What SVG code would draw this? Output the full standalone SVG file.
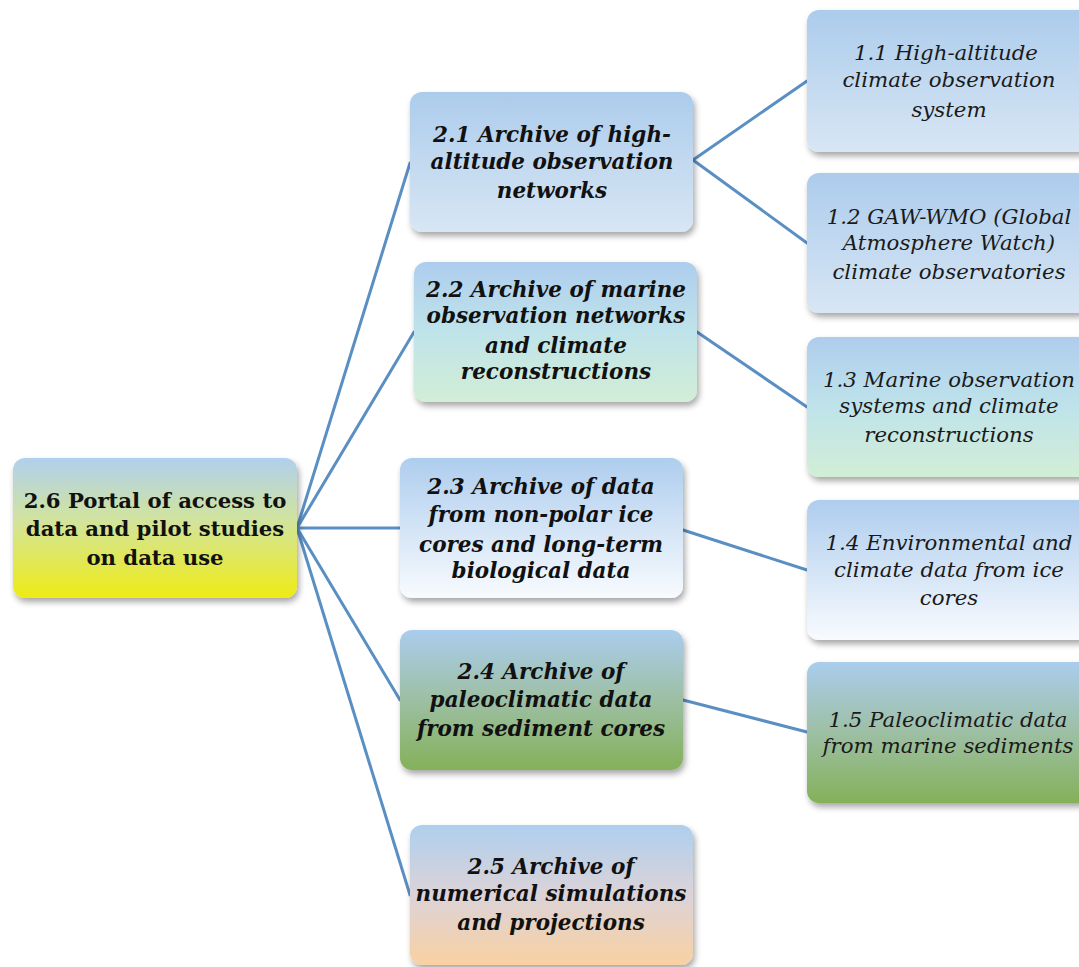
<svg xmlns="http://www.w3.org/2000/svg" width="1079" height="967" viewBox="0 0 1079 967">
<defs>
<linearGradient id="gBlue" x1="0" y1="0" x2="0" y2="1"><stop offset="0" stop-color="#acccec"/><stop offset="1" stop-color="#d8e6f4"/></linearGradient>
<linearGradient id="gTeal" x1="0" y1="0" x2="0" y2="1"><stop offset="0" stop-color="#aecdee"/><stop offset="0.5" stop-color="#bfe3ea"/><stop offset="1" stop-color="#d2eed6"/></linearGradient>
<linearGradient id="gWhite" x1="0" y1="0" x2="0" y2="1"><stop offset="0" stop-color="#aecdee"/><stop offset="1" stop-color="#f8fbfe"/></linearGradient>
<linearGradient id="gGreen" x1="0" y1="0" x2="0" y2="1"><stop offset="0" stop-color="#aacdee"/><stop offset="0.5" stop-color="#9dbfa4"/><stop offset="1" stop-color="#84b159"/></linearGradient>
<linearGradient id="gPeach" x1="0" y1="0" x2="0" y2="1"><stop offset="0" stop-color="#aecfee"/><stop offset="0.5" stop-color="#dcd3d8"/><stop offset="1" stop-color="#f9d1a2"/></linearGradient>
<linearGradient id="gYellow" x1="0" y1="0" x2="0" y2="1"><stop offset="0" stop-color="#b0d0ee"/><stop offset="0.45" stop-color="#d2e49c"/><stop offset="1" stop-color="#efeb14"/></linearGradient>
<filter id="sh" x="-10%" y="-10%" width="125%" height="130%"><feDropShadow dx="2" dy="4" stdDeviation="3" flood-color="#000" flood-opacity="0.35"/></filter>
</defs>
<style>
.box{filter:url(#sh);}
.conn{stroke:#5a8fc4;stroke-width:3;fill:none;stroke-linecap:round;}
.root{font-family:"DejaVu Serif","Liberation Serif",serif;font-weight:bold;font-size:21.2px;fill:#111;text-anchor:middle;}
.mid{font-family:"DejaVu Serif","Liberation Serif",serif;font-weight:bold;font-style:italic;font-size:21.5px;fill:#111;text-anchor:middle;}
.leaf{font-family:"DejaVu Serif","Liberation Serif",serif;font-style:italic;font-size:21.3px;fill:#1a1a1a;text-anchor:middle;}
</style>
<rect width="1079" height="967" fill="#ffffff"/>
<g id="connectors">
<line class="conn" x1="297" y1="528" x2="410" y2="163"/>
<line class="conn" x1="297" y1="528" x2="414" y2="332"/>
<line class="conn" x1="297" y1="528" x2="400" y2="528"/>
<line class="conn" x1="297" y1="528" x2="400" y2="700"/>
<line class="conn" x1="297" y1="528" x2="410" y2="895"/>
<line class="conn" x1="693" y1="160" x2="807" y2="81"/>
<line class="conn" x1="693" y1="160" x2="807" y2="243"/>
<line class="conn" x1="697" y1="332" x2="807" y2="407"/>
<line class="conn" x1="683" y1="530" x2="807" y2="570"/>
<line class="conn" x1="683" y1="700" x2="807" y2="732"/>
</g>
<g id="node-2-6">
<rect class="box" x="13" y="458" width="284" height="140" rx="12" fill="url(#gYellow)"/>
<text class="root" x="155" y="508">2.6 Portal of access to</text>
<text class="root" x="155" y="536">data and pilot studies</text>
<text class="root" x="155" y="565">on data use</text>
</g>
<g id="node-2-1">
<rect class="box" x="410" y="92" width="283" height="140" rx="12" fill="url(#gBlue)"/>
<text class="mid" x="552" y="142">2.1 Archive of high-</text>
<text class="mid" x="552" y="169">altitude observation</text>
<text class="mid" x="552" y="198">networks</text>
</g>
<g id="node-2-2">
<rect class="box" x="414" y="262" width="283" height="140" rx="12" fill="url(#gTeal)"/>
<text class="mid" x="556" y="297">2.2 Archive of marine</text>
<text class="mid" x="556" y="323">observation networks</text>
<text class="mid" x="556" y="353">and climate</text>
<text class="mid" x="556" y="379">reconstructions</text>
</g>
<g id="node-2-3">
<rect class="box" x="400" y="458" width="283" height="140" rx="12" fill="url(#gWhite)"/>
<text class="mid" x="541" y="494">2.3 Archive of data</text>
<text class="mid" x="541" y="522">from non-polar ice</text>
<text class="mid" x="541" y="552">cores and long-term</text>
<text class="mid" x="541" y="578">biological data</text>
</g>
<g id="node-2-4">
<rect class="box" x="400" y="630" width="283" height="140" rx="12" fill="url(#gGreen)"/>
<text class="mid" x="541" y="679">2.4 Archive of</text>
<text class="mid" x="541" y="707">paleoclimatic data</text>
<text class="mid" x="541" y="736">from sediment cores</text>
</g>
<g id="node-2-5">
<rect class="box" x="410" y="825" width="283" height="140" rx="12" fill="url(#gPeach)"/>
<text class="mid" x="551" y="874">2.5 Archive of</text>
<text class="mid" x="551" y="901">numerical simulations</text>
<text class="mid" x="551" y="930">and projections</text>
</g>
<g id="node-1-1">
<rect class="box" x="807" y="10" width="284" height="142" rx="12" fill="url(#gBlue)"/>
<text class="leaf" x="946" y="60">1.1  High-altitude</text>
<text class="leaf" x="949" y="87">climate observation</text>
<text class="leaf" x="949" y="117">system</text>
</g>
<g id="node-1-2">
<rect class="box" x="807" y="173" width="284" height="140" rx="12" fill="url(#gBlue)"/>
<text class="leaf" x="949" y="224">1.2 GAW-WMO (Global</text>
<text class="leaf" x="949" y="250">Atmosphere Watch)</text>
<text class="leaf" x="949" y="279">climate observatories</text>
</g>
<g id="node-1-3">
<rect class="box" x="807" y="337" width="284" height="140" rx="12" fill="url(#gTeal)"/>
<text class="leaf" x="949" y="387">1.3 Marine observation</text>
<text class="leaf" x="949" y="413">systems and climate</text>
<text class="leaf" x="949" y="442">reconstructions</text>
</g>
<g id="node-1-4">
<rect class="box" x="807" y="500" width="284" height="140" rx="12" fill="url(#gWhite)"/>
<text class="leaf" x="949" y="550">1.4 Environmental and</text>
<text class="leaf" x="949" y="577">climate data from ice</text>
<text class="leaf" x="949" y="605">cores</text>
</g>
<g id="node-1-5">
<rect class="box" x="807" y="662" width="284" height="141" rx="12" fill="url(#gGreen)"/>
<text class="leaf" x="948" y="727">1.5 Paleoclimatic data</text>
<text class="leaf" x="948" y="753">from marine sediments</text>
</g>
</svg>
